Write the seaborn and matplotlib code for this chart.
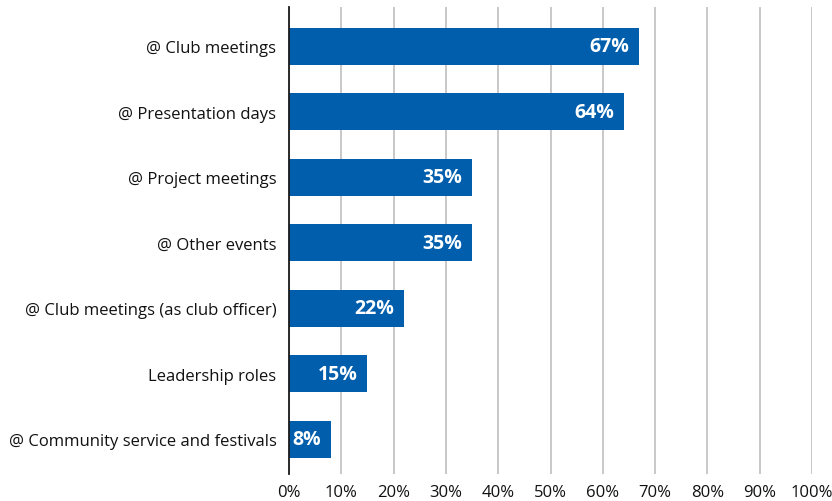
import matplotlib
matplotlib.use("Agg")
import matplotlib.pyplot as plt
import pandas as pd
import seaborn as sns

categories = [
    "@ Club meetings",
    "@ Presentation days",
    "@ Project meetings",
    "@ Other events",
    "@ Club meetings (as club officer)",
    "Leadership roles",
    "@ Community service and festivals",
]
percent = [67, 64, 35, 35, 22, 15, 8]
x_ticks = [0, 10, 20, 30, 40, 50, 60, 70, 80, 90, 100]

BLUE = "#005EAD"

sns.set_theme(style="white")
plt.rcParams["font.family"] = ["Open Sans", "DejaVu Sans"]

df = pd.DataFrame({"category": categories, "percent": percent})

fig = plt.figure(figsize=(8.32, 5.02), dpi=100)
ax = fig.add_axes([289 / 832, 27 / 502, 523 / 832, 467 / 502])

sns.barplot(data=df, x="percent", y="category", orient="h", color=BLUE,
            saturation=1, width=0.57, linewidth=0, ax=ax)

for y, v in enumerate(percent):
    ax.annotate(f"{v}%", xy=(v, y), xytext=(-7, 0), textcoords="offset points",
                ha="right", va="center", color="white", fontsize=14,
                fontweight="bold")

ax.set_xlim(0, 100)
ax.set_ylim(6.53, -0.6)
ax.set_xticks(x_ticks)
ax.set_xticklabels([f"{t}%" for t in x_ticks], fontsize=12, color="#111111")
ax.tick_params(axis="y", labelsize=12, labelcolor="#111111", length=0, pad=9)
ax.tick_params(axis="x", length=0, pad=7)
ax.set_xlabel("")
ax.set_ylabel("")
ax.xaxis.grid(True, color="#c4c4c4", linewidth=1.3)
ax.set_axisbelow(True)
for side in ["top", "right", "bottom"]:
    ax.spines[side].set_visible(False)
ax.spines["left"].set_color("#1a1a1a")
ax.spines["left"].set_linewidth(1.3)

fig.savefig("out.png", dpi=100)
